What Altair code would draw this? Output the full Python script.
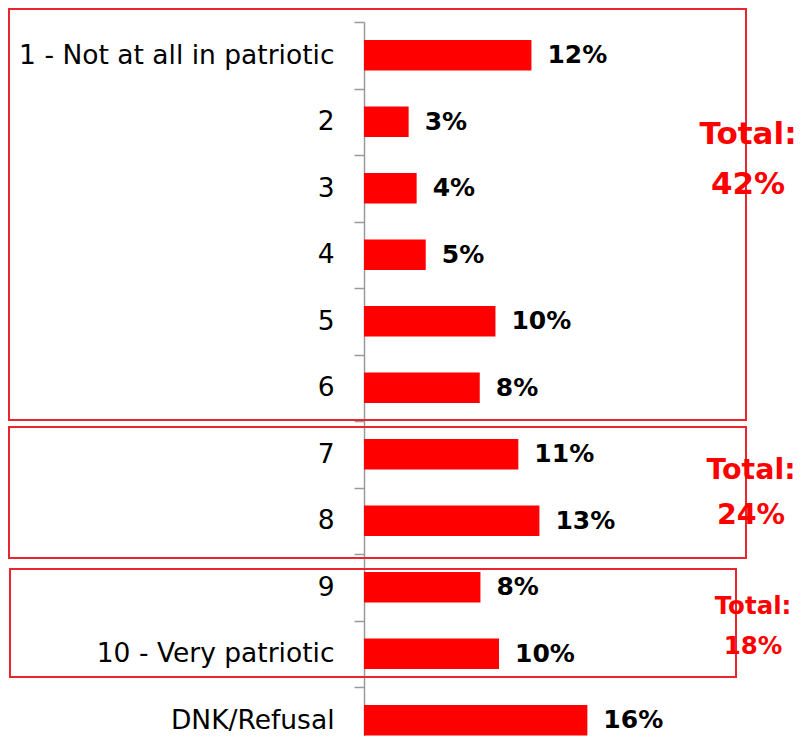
import altair as alt
import pandas as pd

categories = ["1 - Not at all in patriotic", "2", "3", "4", "5", "6", "7", "8", "9",
              "10 - Very patriotic", "DNK/Refusal"]
# bar lengths (percent)
values = [12.15, 3.24, 3.82, 4.48, 9.54, 8.40, 11.20, 12.73, 8.45, 9.80, 16.21]
# labels as printed on the chart
value_labels = ["12%", "3%", "4%", "5%", "10%", "8%", "11%", "13%", "8%", "10%", "16%"]
group_totals = ["42%", "24%", "18%"]

df = pd.DataFrame({"cat": categories, "val": values, "lab": value_labels})

RED = "#FF0000"
BOX = "#E9262F"
FONT = "DejaVu Sans"

y_enc = alt.Y(
    "cat:N", sort=categories,
    scale=alt.Scale(range=[0, 731.5], paddingInner=0, paddingOuter=0),
    axis=alt.Axis(title=None, labelFont=FONT, labelFontSize=26.5, labelColor="black",
                  labelPadding=20, tickBand="extent", tickSize=10, tickColor="#9a9a9a",
                  tickWidth=1.5, domainColor="#9a9a9a", domainWidth=1.5, labelLimit=400),
)
x_enc = alt.X("val:Q", scale=alt.Scale(domain=[0, 433 / 13.78]), axis=None)

base = alt.Chart(df)
bars = base.mark_bar(color=RED, height=alt.RelativeBandSize(0.455)).encode(x=x_enc, y=y_enc)
labels = base.mark_text(align="left", baseline="middle", dx=16, font=FONT,
                        fontSize=25, fontWeight="bold", color="black").encode(
    x=x_enc, y=y_enc, text="lab:N")

one = pd.DataFrame({"a": [0]})


def box(x1, x2, y1, y2):
    return alt.Chart(one).mark_rect(fill=None, stroke=BOX, strokeWidth=2).encode(
        x=alt.value(x1), x2=alt.value(x2), y=alt.value(y1), y2=alt.value(y2))


def total(txt, x, y, size):
    return alt.Chart(one).mark_text(align="center", baseline="middle", font=FONT,
                                    fontSize=size, fontWeight="bold", color=RED,
                                    text=txt).encode(x=alt.value(x), y=alt.value(y))


boxes = [box(-355, 382, -13, 398), box(-355, 382, 405, 536), box(-354, 372, 547, 655)]
totals = [
    total("Total:", 384, 113, 31), total(group_totals[0], 384, 163, 31),
    total("Total:", 387, 448, 28.5), total(group_totals[1], 387, 493, 28.5),
    total("Total:", 389, 585, 24.5), total(group_totals[2], 389, 625, 24.5),
]

chart = alt.layer(bars, labels, *boxes, *totals).properties(
    width=433, height=714,
    autosize=alt.AutoSizeParams(type="none"),
    padding={"left": 356, "top": 14, "right": 0, "bottom": 0},
).configure_view(stroke=None)

chart.save("out.html", embed_options={"renderer": "svg", "actions": False})
